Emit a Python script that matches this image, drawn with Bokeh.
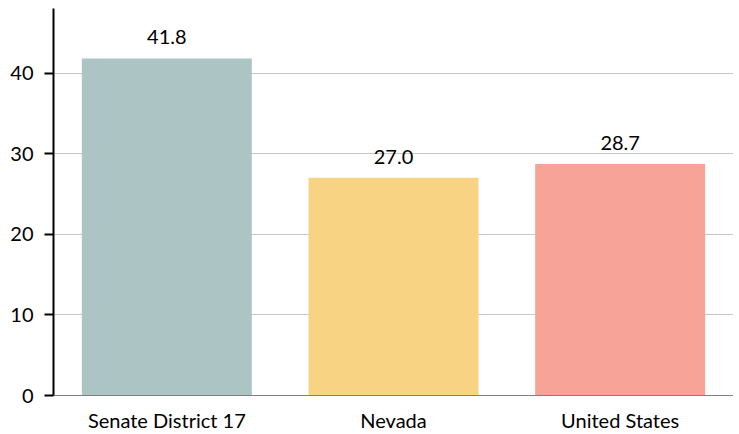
from bokeh.plotting import figure
from bokeh.models import ColumnDataSource, FactorRange, Range1d, LabelSet, SingleIntervalTicker
from bokeh.core.properties import value
from bokeh.embed import file_html
from bokeh.resources import INLINE

categories = ["Senate District 17", "Nevada", "United States"]
values = [41.8, 27.0, 28.7]
colors = ["#adc4c5", "#f7d383", "#f8a398"]
labels = ["41.8", "27.0", "28.7"]

FONT = "Lato"

src = ColumnDataSource(dict(cat=categories, val=values, color=colors, label=labels))

p = figure(x_range=FactorRange(*categories), y_range=Range1d(0, 48),
           width=733, height=434, output_backend="svg", toolbar_location=None,
           min_border_left=53, min_border_right=0, min_border_top=8, min_border_bottom=20)
p.outline_line_color = None
p.background_fill_color = "white"

p.vbar(x="cat", top="val", width=0.75, color="color", source=src, line_color=None)

lbl = LabelSet(x="cat", y="val", text="label", source=src, text_align="center",
               text_baseline="bottom", y_offset=14, text_font_size="20px",
               text_font=value(FONT), text_color="#000000")
p.add_layout(lbl)

p.xgrid.grid_line_color = None
p.ygrid.grid_line_color = "#c8c8c8"
p.ygrid.grid_line_width = 1
p.yaxis.ticker = SingleIntervalTicker(interval=10)
p.yaxis.axis_line_color = "black"
p.yaxis.axis_line_width = 2
p.yaxis.major_tick_line_color = "black"
p.yaxis.major_tick_line_width = 2
p.yaxis.major_tick_out = 9
p.yaxis.major_tick_in = 0
p.yaxis.minor_tick_line_color = None
p.yaxis.major_label_text_font = FONT
p.yaxis.major_label_text_font_size = "20px"
p.yaxis.major_label_text_color = "black"
p.yaxis.major_label_standoff = 11

p.xaxis.axis_line_color = "#808080"
p.xaxis.axis_line_width = 1
p.xaxis.major_tick_line_color = None
p.xaxis.major_tick_out = 0
p.xaxis.major_tick_in = 0
p.xaxis.minor_tick_line_color = None
p.xaxis.minor_tick_out = 0
p.xaxis.major_label_text_font = FONT
p.xaxis.major_label_text_font_size = "20px"
p.xaxis.major_label_text_color = "black"
p.xaxis.major_label_standoff = 12

open("out.html", "w").write(file_html(p, INLINE))
